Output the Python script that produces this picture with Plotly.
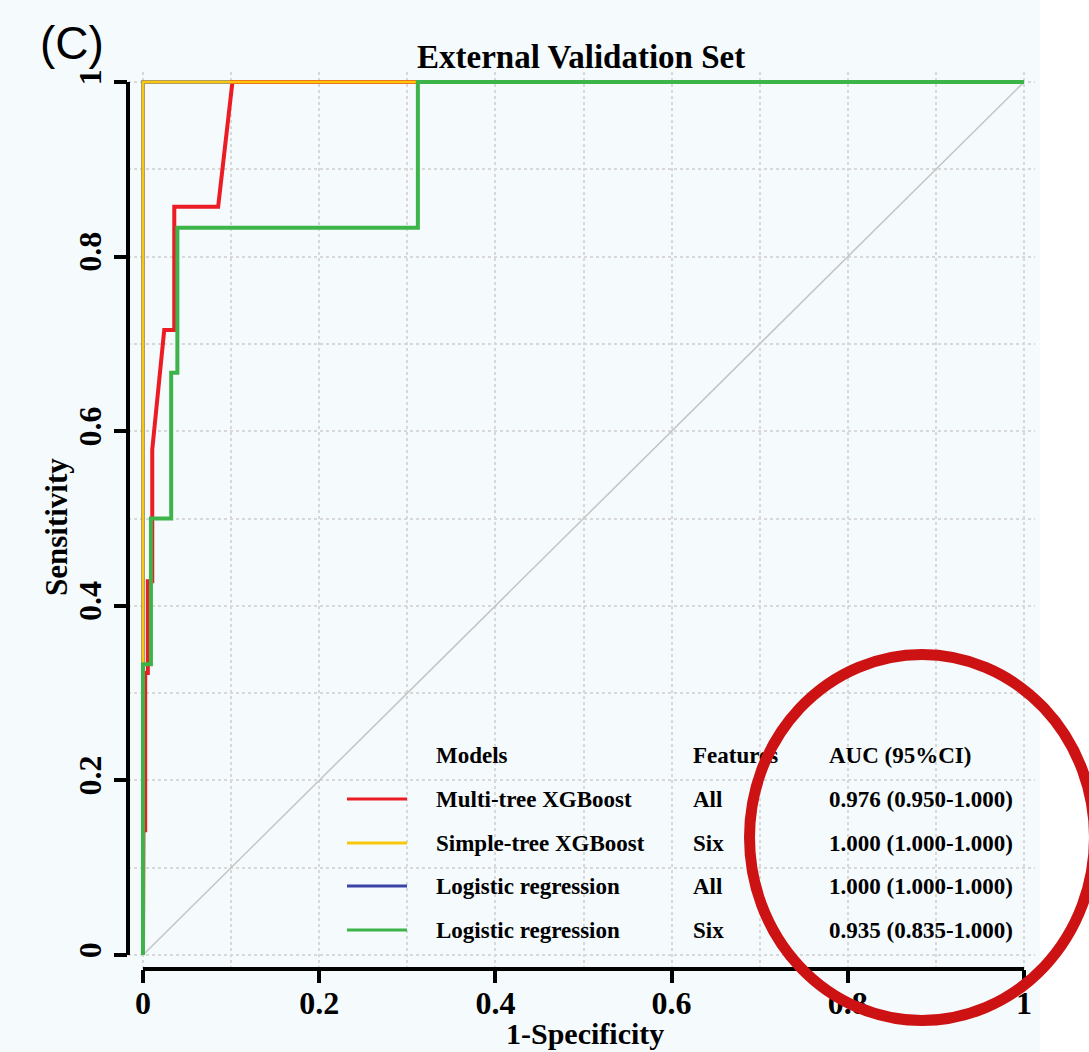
import plotly.graph_objects as go

# ---------------- data ----------------
fpr_multi = [0, 0.0005, 0.0005, 0.0025, 0.0025, 0.0055, 0.0055, 0.0105, 0.0105, 0.0241, 0.0355, 0.0355, 0.0853, 0.1015, 1.0]
tpr_multi = [0, 0.048, 0.143, 0.143, 0.323, 0.323, 0.428, 0.428, 0.579, 0.716, 0.716, 0.857, 0.857, 1.0, 1.0]

fpr_simple = [0, 0, 1]
tpr_simple = [0, 1, 1]

fpr_lr_all = [0, 0, 1]
tpr_lr_all = [0, 1, 1]

fpr_lr_six = [0, 0, 0.009, 0.009, 0.032, 0.032, 0.039, 0.039, 0.312, 0.312, 1]
tpr_lr_six = [0, 0.333, 0.333, 0.5, 0.5, 0.667, 0.667, 0.833, 0.833, 1, 1]

models = ["Multi-tree XGBoost", "Simple-tree XGBoost", "Logistic regression", "Logistic regression"]
features = ["All", "Six", "All", "Six"]
auc_ci = ["0.976 (0.950-1.000)", "1.000 (1.000-1.000)", "1.000 (1.000-1.000)", "0.935 (0.835-1.000)"]
headers = ["Models", "Features", "AUC (95%CI)"]
colors = ["#ec1c24", "#f8c80c", "#3a44a8", "#3cb44a"]

tick_vals = [0, 0.2, 0.4, 0.6, 0.8, 1]
tick_text = ["0", "0.2", "0.4", "0.6", "0.8", "1"]

# ---------------- layout geometry ----------------
W, H = 1089, 1052
ML, MR, MT, MB = 128, 54, 72, 83
PW, PH = W - ML - MR, H - MT - MB
X0PX, XUNIT = 143, 881   # pixel of x=0, pixels per unit
Y0PX, YUNIT = 955, 873   # pixel of y=0, pixels per unit
xr = [(ML - X0PX) / XUNIT, (ML + PW - X0PX) / XUNIT]
yr = [(Y0PX - (MT + PH)) / YUNIT, (Y0PX - MT) / YUNIT]


def px(xp):
    return (xp - ML) / PW


def py(yp):
    return (MT + PH - yp) / PH


def dx(xp):
    return (xp - X0PX) / XUNIT


def dy(yp):
    return (Y0PX - yp) / YUNIT


SERIF = "Liberation Serif, Times New Roman, serif"
BG = "#f5fafd"
TICKFONT = dict(family=SERIF, size=32, color="black", weight="bold")
LEG_FONT = dict(family=SERIF, size=23, color="black", weight="bold")

fig = go.Figure()

# diagonal reference
fig.add_trace(go.Scatter(x=[0, 1], y=[0, 1], mode="lines",
                         line=dict(color="#c4c4c4", width=1.5), showlegend=False, hoverinfo="skip"))

curves = [
    (fpr_lr_all, tpr_lr_all, 2, 3.5),
    (fpr_multi, tpr_multi, 0, 4),
    (fpr_simple, tpr_simple, 1, 3),
    (fpr_lr_six, tpr_lr_six, 3, 4),
]
for fx, ty, i, lw in curves:
    fig.add_trace(go.Scatter(x=fx, y=ty, mode="lines", name=models[i] + " " + features[i],
                             line=dict(color=colors[i], width=lw), showlegend=False))

# legend table as text traces (so the emphasis ellipse can sit on top)
col_x = [dx(436), dx(693), dx(829)]
header_y = dy(757)
row_y = [dy(801), dy(845), dy(888), dy(932)]
line_y = [dy(799), dy(843), dy(886), dy(930)]
columns = [models, features, auc_ci]
for c in range(3):
    fig.add_trace(go.Scatter(
        x=[col_x[c]] * 5, y=[header_y] + row_y, mode="text",
        text=[headers[c]] + columns[c], textposition="middle right",
        textfont=LEG_FONT, showlegend=False, hoverinfo="skip", cliponaxis=False))

axis_common = dict(
    tickvals=tick_vals, ticktext=tick_text,
    ticks="outside", ticklen=13, tickwidth=3.5, tickcolor="black",
    showline=False, zeroline=False,
    showgrid=True, gridcolor="#d8d8d8", gridwidth=1.5, griddash="dot",
    minor=dict(dtick=0.1, tick0=0, showgrid=True, gridcolor="#d8d8d8", gridwidth=1.5, griddash="dot", ticks=""),
    tickfont=TICKFONT,
)

fig.update_xaxes(range=xr, ticklabelstandoff=-7, **axis_common)
fig.update_yaxes(range=yr, tickangle=-90, **axis_common)

shapes = [
    # white strip at the right edge of the picture
    dict(type="rect", xref="paper", yref="paper", x0=px(1040), x1=px(1100), y0=py(1060), y1=py(-10),
         fillcolor="white", line=dict(width=0), layer="below"),
    # R-style axis lines spanning 0..1
    dict(type="line", xref="x", yref="paper", x0=0, x1=1, y0=0, y1=0, line=dict(color="black", width=4)),
    dict(type="line", xref="paper", yref="y", x0=0, x1=0, y0=0, y1=1, line=dict(color="black", width=4)),
]

for i in range(4):
    shapes.append(dict(type="line", xref="x", yref="y", x0=dx(347), x1=dx(407), y0=line_y[i], y1=line_y[i],
                       line=dict(color=colors[i], width=3)))

# red emphasis ellipse (on top of everything)
shapes.append(dict(type="circle", xref="paper", yref="paper", x0=px(749.5), x1=px(1094.5),
                   y0=py(1020.5), y1=py(654.5), line=dict(color="#cc1212", width=11), layer="above"))

annotations = [
    dict(text="(C)", xref="paper", yref="paper", x=px(38), y=py(43), xanchor="left", yanchor="middle",
         showarrow=False, font=dict(family="Liberation Sans, Arial, sans-serif", size=46, color="black")),
    dict(text="External Validation Set", xref="paper", yref="paper", x=px(581), y=py(57),
         xanchor="center", yanchor="middle", showarrow=False,
         font=dict(family=SERIF, size=33, color="black", weight="bold")),
    dict(text="1-Specificity", xref="paper", yref="paper", x=px(585), y=py(1033),
         xanchor="center", yanchor="middle", showarrow=False,
         font=dict(family=SERIF, size=30, color="black", weight="bold")),
    dict(text="Sensitivity", xref="paper", yref="paper", x=px(56), y=py(527), textangle=-90,
         xanchor="center", yanchor="middle", showarrow=False,
         font=dict(family=SERIF, size=31, color="black", weight="bold")),
]

fig.update_layout(
    width=W, height=H,
    margin=dict(l=ML, r=MR, t=MT, b=MB, pad=0),
    paper_bgcolor=BG, plot_bgcolor=BG,
    shapes=shapes, annotations=annotations,
    showlegend=False,
)

fig.write_html("out.html")
